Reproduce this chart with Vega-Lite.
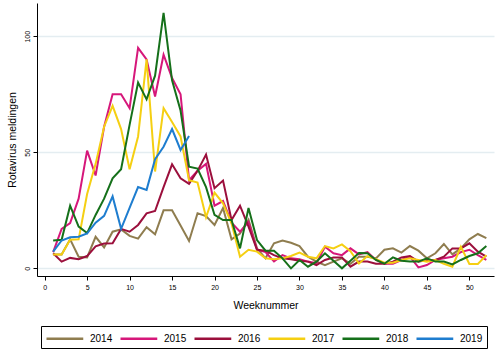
{
  "$schema": "https://vega.github.io/schema/vega-lite/v6.json",
  "width": 457,
  "height": 273,
  "autosize": {"type": "none"},
  "padding": {"left": 37, "top": 3, "right": 6, "bottom": 83},
  "background": "white",
  "config": {
    "view": {"stroke": null},
    "font": "Liberation Sans",
    "axis": {"labelFont": "Liberation Sans", "titleFont": "Liberation Sans", "titleFontWeight": "normal", "labelColor": "black", "titleColor": "black", "domainColor": "black", "tickColor": "black", "domainWidth": 1, "tickWidth": 1}
  },
  "data": {"values": [
    {"week": 1, "2014": 6, "2015": 7, "2016": 6.5, "2017": 6, "2018": 12, "2019": 7.2},
    {"week": 2, "2014": 6, "2015": 17, "2016": 2.9, "2017": 6, "2018": 12.3, "2019": 12},
    {"week": 3, "2014": 12.5, "2015": 19.5, "2016": 4.5, "2017": 12.3, "2018": 27, "2019": 13.4},
    {"week": 4, "2014": 5, "2015": 30, "2016": 3.9, "2017": 12.5, "2018": 18, "2019": 13.6},
    {"week": 5, "2014": 4.7, "2015": 50.7, "2016": 5.3, "2017": 32, "2018": 15.2, "2019": 15},
    {"week": 6, "2014": 13.6, "2015": 40, "2016": 9.5, "2017": 45, "2018": 23, "2019": 19.7},
    {"week": 7, "2014": 9, "2015": 61, "2016": 10.7, "2017": 61, "2018": 30, "2019": 22.6},
    {"week": 8, "2014": 15.8, "2015": 75, "2016": 10.8, "2017": 70, "2018": 38.8, "2019": 31},
    {"week": 9, "2014": 16.8, "2015": 75, "2016": 17, "2017": 60, "2018": 42.7, "2019": 17},
    {"week": 10, "2014": 14, "2015": 69, "2016": 15.8, "2017": 42.7, "2018": 61.8, "2019": 26},
    {"week": 11, "2014": 12.8, "2015": 95, "2016": 18.7, "2017": 56.8, "2018": 80, "2019": 35},
    {"week": 12, "2014": 17.7, "2015": 90, "2016": 23.7, "2017": 90, "2018": 72.8, "2019": 33.8},
    {"week": 13, "2014": 14.7, "2015": 74, "2016": 24.7, "2017": 41.7, "2018": 83, "2019": 47},
    {"week": 14, "2014": 25, "2015": 92, "2016": 35, "2017": 69, "2018": 110, "2019": 52.4},
    {"week": 15, "2014": 25, "2015": 82, "2016": 44.8, "2017": 63, "2018": 81, "2019": 60},
    {"week": 16, "2014": 18.5, "2015": 75, "2016": 38.8, "2017": 56.8, "2018": 68, "2019": 51},
    {"week": 17, "2014": 11.8, "2015": 38, "2016": 36.4, "2017": 38, "2018": 43.8, "2019": 57},
    {"week": 18, "2014": 23.7, "2015": 42, "2016": 42, "2017": 37, "2018": 43, "2019": null},
    {"week": 19, "2014": 22.5, "2015": 45, "2016": 49, "2017": 22, "2018": 35, "2019": null},
    {"week": 20, "2014": 18.7, "2015": 27, "2016": 34.5, "2017": 32.6, "2018": 23, "2019": null},
    {"week": 21, "2014": 26, "2015": 29, "2016": 37.8, "2017": 28, "2018": 20.8, "2019": null},
    {"week": 22, "2014": 12.5, "2015": 19.7, "2016": 20.8, "2017": 19.4, "2018": 20.8, "2019": null},
    {"week": 23, "2014": 15, "2015": 15.8, "2016": 27, "2017": 5, "2018": 8.6, "2019": null},
    {"week": 24, "2014": 21, "2015": 20, "2016": 18, "2017": 8, "2018": 26, "2019": null},
    {"week": 25, "2014": 8.6, "2015": 8, "2016": 8, "2017": 7.2, "2018": 12.2, "2019": null},
    {"week": 26, "2014": 4.3, "2015": 7, "2016": 7.6, "2017": 4.3, "2018": 7.6, "2019": null},
    {"week": 27, "2014": 10.8, "2015": 3, "2016": 5.7, "2017": 3.9, "2018": 7.6, "2019": null},
    {"week": 28, "2014": 12, "2015": 5.7, "2016": 4.3, "2017": 4.3, "2018": 4.3, "2019": null},
    {"week": 29, "2014": 11, "2015": 4.3, "2016": 3.9, "2017": 5.3, "2018": 0, "2019": null},
    {"week": 30, "2014": 9.6, "2015": 3.9, "2016": 3.3, "2017": 6.8, "2018": 3.6, "2019": null},
    {"week": 31, "2014": 5, "2015": 2.9, "2016": 2.9, "2017": 5, "2018": 0.7, "2019": null},
    {"week": 32, "2014": 2.9, "2015": 2.2, "2016": 1.4, "2017": 4.3, "2018": 2.9, "2019": null},
    {"week": 33, "2014": 1.4, "2015": 9.3, "2016": 3.6, "2017": 9.6, "2018": 6.5, "2019": null},
    {"week": 34, "2014": 2.9, "2015": 6.5, "2016": 4.7, "2017": 8.6, "2018": 3.3, "2019": null},
    {"week": 35, "2014": 4.3, "2015": 5.7, "2016": 4.7, "2017": 10.3, "2018": 0, "2019": null},
    {"week": 36, "2014": 2, "2015": 8.6, "2016": 0.7, "2017": 7.4, "2018": 3.3, "2019": null},
    {"week": 37, "2014": 5, "2015": 6, "2016": 2.9, "2017": 2.1, "2018": 6.6, "2019": null},
    {"week": 38, "2014": 5, "2015": 7, "2016": 2.9, "2017": 5.3, "2018": 6.5, "2019": null},
    {"week": 39, "2014": 4.3, "2015": 3.6, "2016": 2, "2017": 3.9, "2018": 3.6, "2019": null},
    {"week": 40, "2014": 8, "2015": 2, "2016": 2, "2017": 2.4, "2018": 2, "2019": null},
    {"week": 41, "2014": 8.6, "2015": 2, "2016": 2.9, "2017": 2.4, "2018": 4.7, "2019": null},
    {"week": 42, "2014": 6.8, "2015": 3.6, "2016": 4.7, "2017": 3.6, "2018": 3.3, "2019": null},
    {"week": 43, "2014": 9.6, "2015": 5, "2016": 5.3, "2017": 4.3, "2018": 2.9, "2019": null},
    {"week": 44, "2014": 7.6, "2015": 0.4, "2016": 2.9, "2017": 3.6, "2018": 2.9, "2019": null},
    {"week": 45, "2014": 4.3, "2015": 1.4, "2016": 3.6, "2017": 2.9, "2018": 4.3, "2019": null},
    {"week": 46, "2014": 6.5, "2015": 3.6, "2016": 3.6, "2017": 3.6, "2018": 2.9, "2019": null},
    {"week": 47, "2014": 10.5, "2015": 4.3, "2016": 5, "2017": 2, "2018": 2.9, "2019": null},
    {"week": 48, "2014": 6, "2015": 5, "2016": 8.6, "2017": 0.7, "2018": 1.7, "2019": null},
    {"week": 49, "2014": 8.6, "2015": 7, "2016": 8.6, "2017": 9.3, "2018": 3.6, "2019": null},
    {"week": 50, "2014": 12.5, "2015": 8, "2016": 10.8, "2017": 1.9, "2018": 5.3, "2019": null},
    {"week": 51, "2014": 14.8, "2015": 5.7, "2016": 7.2, "2017": 1.9, "2018": 6.5, "2019": null},
    {"week": 52, "2014": 13, "2015": 3.6, "2016": 5, "2017": 5.7, "2018": 9.6, "2019": null}
  ]},
  "transform": [
    {"fold": ["2014", "2015", "2016", "2017", "2018", "2019"], "as": ["year", "value"]},
    {"filter": "datum.value != null"}
  ],
  "mark": {"type": "line", "strokeWidth": 2, "clip": true},
  "encoding": {
    "x": {"field": "week", "type": "quantitative",
      "scale": {"domain": [-0.9, 52.9], "nice": false, "zero": false},
      "axis": {"values": [0, 5, 10, 15, 20, 25, 30, 35, 40, 45, 50], "grid": false, "title": "Weeknummer", "labelFontSize": 7, "tickSize": 4, "labelPadding": 3, "titleFontSize": 10.5, "titlePadding": 10, "labelFlush": false}},
    "y": {"field": "value", "type": "quantitative",
      "scale": {"domain": [-3.3, 114.3], "nice": false, "zero": false},
      "axis": {"values": [0, 50, 100], "grid": true, "gridColor": "#e4edf1", "gridWidth": 1.5, "title": "Rotavirus meldingen", "labelAngle": -90, "labelAlign": "center", "labelBaseline": "bottom", "labelFontSize": 7, "tickSize": 4, "labelPadding": 3, "titleFontSize": 10.5, "titlePadding": 6, "labelFlush": false}},
    "color": {"field": "year", "type": "nominal",
      "scale": {"domain": ["2014", "2015", "2016", "2017", "2018", "2019"], "range": ["#8f7d4f", "#d6177a", "#9b0f3c", "#f5cf12", "#15701a", "#1e7dcf"]},
      "legend": {"title": null, "orient": "none", "legendX": 4, "legendY": 323, "direction": "horizontal", "columns": 6, "symbolType": "M-1,0H4.25", "symbolSize": 196, "symbolStrokeWidth": 2.5, "labelFontSize": 10, "labelFont": "Liberation Sans", "labelColor": "black", "labelOffset": 28, "columnPadding": 2, "strokeColor": "black", "padding": 4, "fillColor": "white"}}
  }
}
